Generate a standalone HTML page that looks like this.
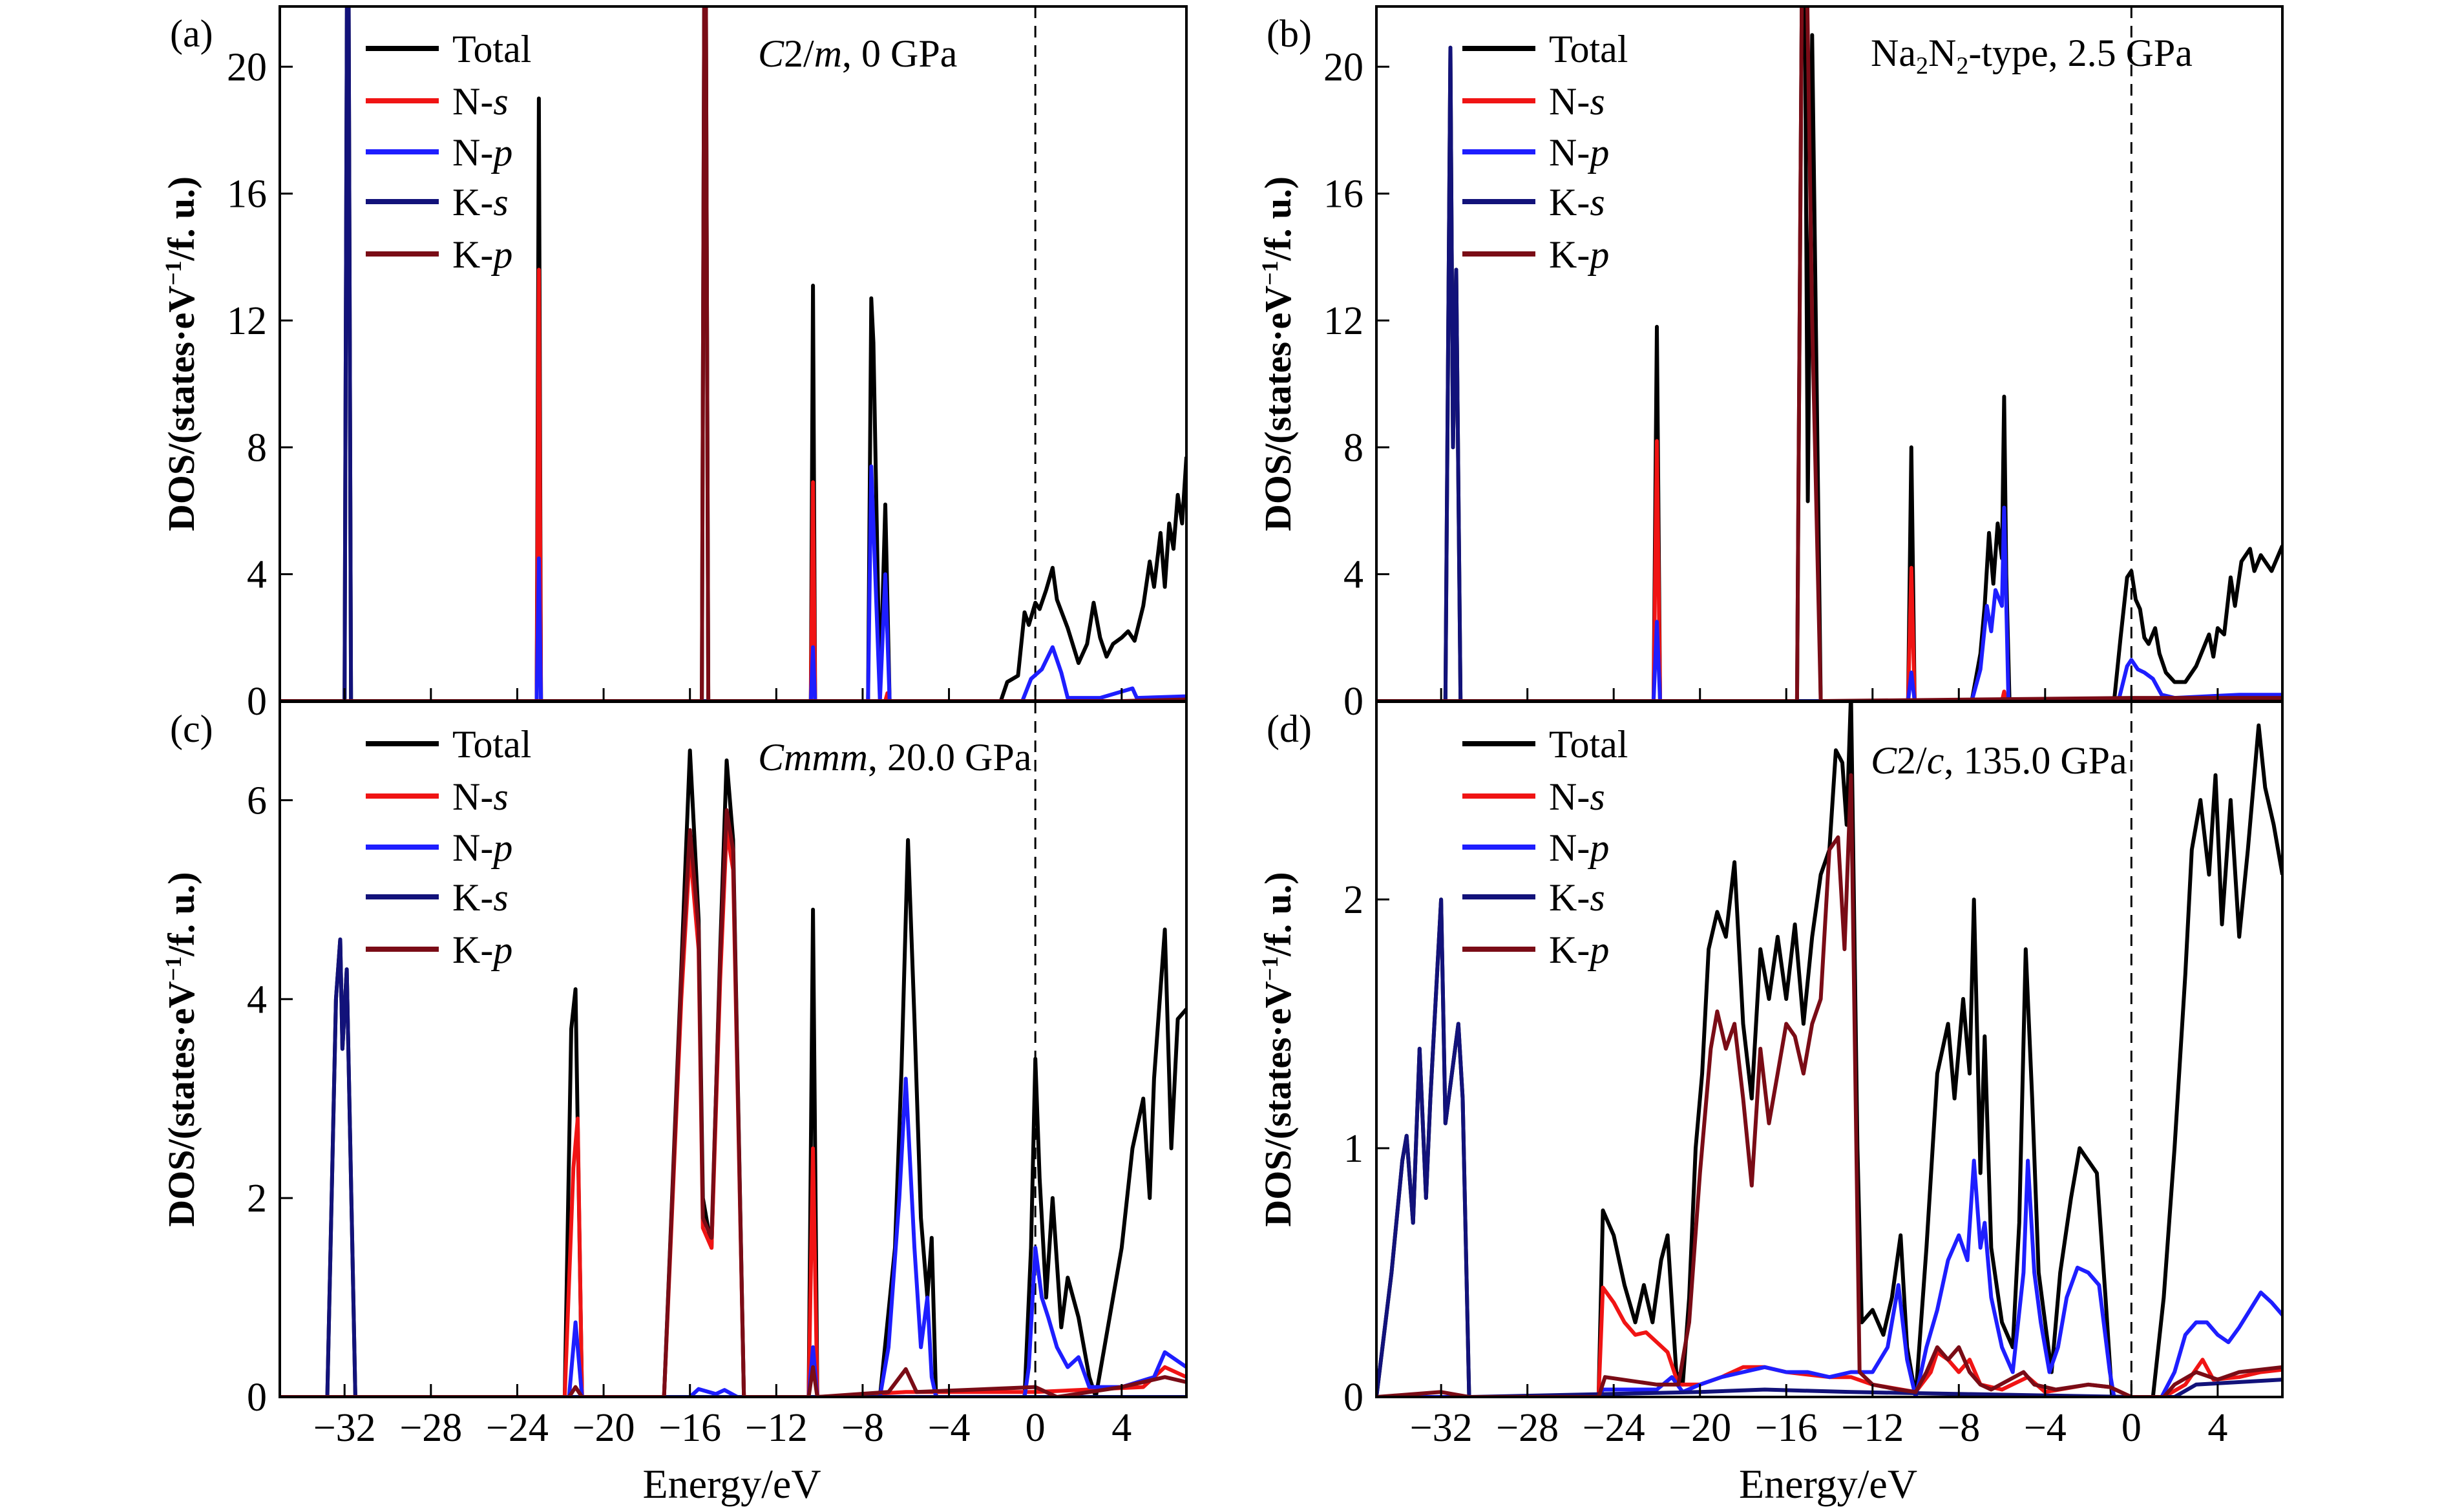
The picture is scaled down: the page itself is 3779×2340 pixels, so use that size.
<!DOCTYPE html>
<html><head><meta charset="utf-8"><style>
html,body{margin:0;padding:0;background:#fff;}
svg{display:block;font-family:"Liberation Serif",serif;}
</style></head><body>
<svg id="fig" width="3779" height="2340" viewBox="0 0 3779 2340" xmlns="http://www.w3.org/2000/svg">
<rect width="3779" height="2340" fill="#fff"/>
</svg>
<script>
// ---------------- data ----------------
const xTicks = [-32,-28,-24,-20,-16,-12,-8,-4,0,4];
const yTicksA = [0,4,8,12,16,20];
const yTicksC = [0,2,4,6];
const yTicksD = [0,1,2];
const seriesNames = ["Total","N-s","N-p","K-s","K-p"];

// panel (a) C2/m 0 GPa
const a_total = [[-35,0],[-32.0,0],[-31.85,30],[-31.7,0],[-23.1,0],[-23.0,19],[-22.9,0],[-15.45,0],[-15.3,30],[-15.15,0],[-10.4,0],[-10.3,13.1],[-10.2,0],[-7.75,0],[-7.6,12.7],[-7.5,11.3],[-7.2,0.1],[-6.95,6.2],[-6.75,0],[-1.6,0],[-1.3,0.6],[-0.8,0.8],[-0.5,2.8],[-0.3,2.4],[0,3.1],[0.2,2.9],[0.5,3.5],[0.8,4.2],[1.0,3.2],[1.5,2.3],[2.0,1.2],[2.4,1.8],[2.7,3.1],[3.0,2.0],[3.3,1.4],[3.6,1.8],[4.0,2.0],[4.3,2.2],[4.6,1.9],[5.0,3.0],[5.3,4.4],[5.5,3.6],[5.8,5.3],[6.0,3.6],[6.2,5.6],[6.4,4.8],[6.6,6.5],[6.8,5.6],[7,7.7]];
const a_ns = [[-35,0],[-23.1,0],[-23.0,13.6],[-22.9,0],[-10.4,0],[-10.3,6.9],[-10.2,0],[-6.95,0],[-6.85,0.25],[-6.75,0],[7,0]];
const a_np = [[-35,0],[-23.1,0],[-23.0,4.5],[-22.9,0],[-10.4,0],[-10.3,1.7],[-10.2,0],[-7.75,0],[-7.6,7.4],[-7.2,0],[-6.95,4.0],[-6.75,0],[-0.6,0],[-0.2,0.7],[0.3,1.0],[0.8,1.7],[1.2,0.9],[1.5,0.1],[3,0.1],[4.5,0.4],[4.7,0.1],[7,0.15]];
const a_ks = [[-35,0],[-32.0,0],[-31.85,30],[-31.7,0],[7,0]];
const a_kp = [[-35,0],[-15.45,0],[-15.3,30],[-15.15,0],[4,0],[7,0.05]];

// panel (b) Na2N2-type 2.5 GPa
const b_total = [[-35,0],[-31.8,0],[-31.57,20.6],[-31.45,8],[-31.3,13.6],[-31.1,0],[-22.15,0],[-22.0,11.8],[-21.85,0],[-15.5,0],[-15.2,30],[-15.0,6.3],[-14.8,21],[-14.4,0],[-10.35,0],[-10.2,8.0],[-10.05,0],[-7.4,0],[-7.0,1.5],[-6.8,3.0],[-6.6,5.3],[-6.4,3.7],[-6.2,5.6],[-6.0,4.5],[-5.9,9.6],[-5.8,4],[-5.65,0],[-0.8,0],[-0.5,2],[-0.2,3.9],[0,4.1],[0.2,3.2],[0.4,2.9],[0.6,2.0],[0.8,1.8],[1.1,2.3],[1.3,1.5],[1.6,0.9],[2.0,0.6],[2.5,0.6],[3.0,1.1],[3.6,2.1],[3.8,1.4],[4.0,2.3],[4.3,2.1],[4.6,3.9],[4.8,3.0],[5.1,4.4],[5.5,4.8],[5.7,4.1],[6.0,4.6],[6.5,4.1],[7,4.9]];
const b_ns = [[-35,0],[-22.15,0],[-22.0,8.2],[-21.85,0],[-10.35,0],[-10.2,4.2],[-10.05,0],[-6.0,0],[-5.9,0.3],[-5.8,0],[7,0]];
const b_np = [[-35,0],[-22.15,0],[-22.0,2.5],[-21.85,0],[-10.35,0],[-10.2,0.9],[-10.05,0],[-7.4,0],[-7.0,1.0],[-6.7,3.0],[-6.5,2.2],[-6.3,3.5],[-6.0,3.0],[-5.9,6.1],[-5.7,0],[-0.6,0],[-0.2,1.1],[0,1.3],[0.3,1.0],[0.6,0.9],[1.0,0.7],[1.4,0.2],[2,0.1],[5,0.2],[7,0.2]];
const b_ks = [[-35,0],[-31.8,0],[-31.57,20.6],[-31.45,8],[-31.3,13.6],[-31.1,0],[7,0]];
const b_kp = [[-35,0],[-15.5,0],[-15.2,30],[-14.8,12],[-14.4,0],[0,0.1],[7,0.1]];

// panel (c) Cmmm 20.0 GPa
const c_total = [[-35,0],[-32.8,0],[-32.4,4.0],[-32.2,4.6],[-32.1,3.5],[-31.9,4.3],[-31.5,0],[-21.8,0],[-21.5,3.7],[-21.3,4.1],[-21.0,0],[-17.2,0],[-16.4,4.3],[-16.0,6.5],[-15.6,4.8],[-15.4,2.0],[-15.0,1.5],[-14.6,4.5],[-14.3,6.4],[-14.0,5.6],[-13.5,0],[-10.5,0],[-10.3,4.9],[-10.1,0],[-7.2,0],[-6.5,1.5],[-6.2,3.3],[-5.9,5.6],[-5.6,3.8],[-5.3,1.8],[-5.0,1.0],[-4.8,1.6],[-4.6,0],[-0.5,0],[-0.2,1.5],[0,3.4],[0.2,2.2],[0.5,1.0],[0.8,2.0],[1.2,0.7],[1.5,1.2],[2.0,0.8],[2.5,0.2],[2.8,0],[3.2,0.5],[4.0,1.5],[4.5,2.5],[5.0,3.0],[5.3,2.0],[5.5,3.2],[6.0,4.7],[6.3,2.5],[6.6,3.8],[7,3.9]];
const c_ns = [[-35,0],[-21.8,0],[-21.4,2.3],[-21.2,2.8],[-21.0,0],[-17.2,0],[-16.4,4.0],[-16.0,5.5],[-15.6,4.5],[-15.4,1.7],[-15.0,1.5],[-14.6,4.2],[-14.3,5.7],[-14.0,5.3],[-13.5,0],[-10.5,0],[-10.3,2.5],[-10.1,0],[-6,0.05],[0,0.05],[5,0.1],[6,0.3],[7,0.2]];
const c_np = [[-35,0],[-21.6,0],[-21.3,0.75],[-21.0,0],[-16,0],[-15.6,0.08],[-14.8,0.03],[-14.4,0.07],[-13.8,0],[-10.5,0],[-10.3,0.5],[-10.1,0],[-7.2,0],[-6.8,0.5],[-6.3,2.0],[-6.0,3.2],[-5.6,1.5],[-5.3,0.5],[-5.0,1.0],[-4.8,0.2],[-4.6,0],[-0.5,0],[-0.3,0.3],[0,1.5],[0.3,1.0],[0.6,0.8],[1.0,0.5],[1.5,0.3],[2.0,0.4],[2.5,0.1],[4,0.1],[5.5,0.2],[6,0.45],[7,0.3]];
const c_ks = [[-35,0],[-32.8,0],[-32.4,4.0],[-32.2,4.6],[-32.1,3.5],[-31.9,4.3],[-31.5,0],[7,0]];
const c_kp = [[-35,0],[-21.6,0],[-21.3,0.1],[-21.0,0],[-17.2,0],[-16.4,4.2],[-16.0,5.7],[-15.6,4.7],[-15.4,1.8],[-15.0,1.6],[-14.6,4.4],[-14.3,5.9],[-14.0,5.5],[-13.5,0],[-10.5,0],[-10.3,0.3],[-10.1,0],[-6.8,0.05],[-6.0,0.28],[-5.5,0.05],[0,0.1],[1,0],[4,0.1],[6,0.2],[7,0.15]];

// panel (d) C2/c 135.0 GPa
const d_total = [[-35,0],[-34.3,0.5],[-33.8,0.95],[-33.6,1.05],[-33.3,0.7],[-33.0,1.4],[-32.7,0.8],[-32.5,1.2],[-32.0,2.0],[-31.8,1.1],[-31.5,1.3],[-31.2,1.5],[-31.0,1.2],[-30.7,0],[-24.7,0],[-24.5,0.75],[-24.0,0.65],[-23.5,0.45],[-23.0,0.3],[-22.6,0.45],[-22.2,0.3],[-21.8,0.55],[-21.5,0.65],[-21.1,0.1],[-20.8,0.05],[-20.5,0.4],[-20.2,1.0],[-19.9,1.3],[-19.6,1.8],[-19.2,1.95],[-18.8,1.85],[-18.4,2.15],[-18.0,1.5],[-17.6,1.2],[-17.2,1.8],[-16.8,1.6],[-16.4,1.85],[-16.0,1.6],[-15.6,1.9],[-15.2,1.5],[-14.8,1.85],[-14.4,2.1],[-14.0,2.2],[-13.7,2.6],[-13.4,2.55],[-13.2,2.3],[-13.0,2.83],[-12.7,1.0],[-12.5,0.3],[-12.0,0.35],[-11.5,0.25],[-11.1,0.4],[-10.7,0.65],[-10.4,0.2],[-10.0,0],[-9.5,0.6],[-9.0,1.3],[-8.5,1.5],[-8.2,1.2],[-7.8,1.6],[-7.5,1.3],[-7.3,2.0],[-7.0,0.9],[-6.8,1.45],[-6.5,0.6],[-6.0,0.3],[-5.5,0.2],[-5.2,0.7],[-4.9,1.8],[-4.6,1.2],[-4.3,0.5],[-4.0,0.3],[-3.7,0.1],[-3.3,0.5],[-2.8,0.8],[-2.4,1.0],[-2.0,0.95],[-1.6,0.9],[-1.2,0.4],[-0.9,0],[1.0,0],[1.5,0.4],[2.0,1.0],[2.5,1.7],[2.8,2.2],[3.2,2.4],[3.6,2.1],[3.9,2.5],[4.2,1.9],[4.6,2.4],[5.0,1.85],[5.4,2.2],[5.9,2.7],[6.2,2.45],[6.6,2.3],[7,2.1]];
const d_ns = [[-35,0],[-24.7,0],[-24.5,0.44],[-24,0.38],[-23.5,0.3],[-23,0.25],[-22.5,0.26],[-22,0.22],[-21.5,0.18],[-21,0.05],[-20,0.05],[-19,0.08],[-18,0.12],[-17,0.12],[-16,0.1],[-15,0.09],[-14,0.08],[-13,0.08],[-12,0.05],[-10,0.02],[-9.3,0.1],[-9,0.18],[-8.5,0.15],[-8,0.1],[-7.5,0.15],[-7,0.05],[-6,0.03],[-4.8,0.08],[-4,0.02],[-2,0.05],[-1,0.04],[0,0],[1.5,0],[2.5,0.05],[3.3,0.15],[3.8,0.07],[5,0.08],[6,0.1],[7,0.11]];
const d_np = [[-35,0],[-24.7,0],[-24.5,0.03],[-22,0.03],[-21.3,0.08],[-20.8,0.02],[-20,0.05],[-19,0.08],[-18,0.1],[-17,0.12],[-16,0.1],[-15,0.1],[-14,0.08],[-13,0.1],[-12,0.1],[-11.3,0.2],[-10.8,0.45],[-10.4,0.15],[-10,0],[-9.5,0.2],[-9,0.35],[-8.5,0.55],[-8,0.65],[-7.6,0.55],[-7.3,0.95],[-7.0,0.6],[-6.8,0.7],[-6.5,0.4],[-6.0,0.2],[-5.5,0.1],[-5.0,0.5],[-4.8,0.95],[-4.5,0.5],[-4.2,0.3],[-3.8,0.1],[-3.4,0.2],[-3,0.4],[-2.5,0.52],[-2,0.5],[-1.5,0.45],[-1,0.1],[-0.8,0],[1.4,0],[2,0.1],[2.5,0.25],[3,0.3],[3.5,0.3],[4,0.25],[4.5,0.22],[5,0.28],[5.5,0.35],[6,0.42],[6.5,0.38],[7,0.33]];
const d_ks = [[-35,0],[-34.3,0.5],[-33.8,0.95],[-33.6,1.05],[-33.3,0.7],[-33.0,1.4],[-32.7,0.8],[-32.5,1.2],[-32.0,2.0],[-31.8,1.1],[-31.5,1.3],[-31.2,1.5],[-31.0,1.2],[-30.7,0],[-20,0.02],[-17,0.03],[-13,0.02],[0,0],[2,0],[3,0.05],[7,0.07]];
const d_kp = [[-35,0],[-32,0.02],[-30.7,0],[-24.7,0],[-24.4,0.08],[-22,0.05],[-21,0.05],[-20.5,0.3],[-20.0,0.9],[-19.5,1.4],[-19.2,1.55],[-18.8,1.4],[-18.4,1.5],[-18,1.2],[-17.6,0.85],[-17.2,1.4],[-16.8,1.1],[-16.4,1.3],[-16,1.5],[-15.6,1.45],[-15.2,1.3],[-14.8,1.5],[-14.4,1.6],[-14.0,2.2],[-13.6,2.25],[-13.3,1.8],[-13.0,2.5],[-12.6,0.1],[-12,0.05],[-10.8,0.03],[-10,0.02],[-9.5,0.1],[-9,0.2],[-8.5,0.15],[-8,0.2],[-7.5,0.1],[-7,0.05],[-6.5,0.03],[-5,0.1],[-4.5,0.05],[-3.5,0.03],[-2,0.05],[-1,0.04],[0,0],[1.5,0],[2,0.05],[3,0.1],[4,0.07],[5,0.1],[7,0.12]];

// ---------------- drawing ----------------
const NS = "http://www.w3.org/2000/svg";
const svg = document.getElementById("fig");
const colors = ["#000000","#f01414","#1e1eff","#12127a","#7a0c16"];
function el(tag, attrs, parent){
  const e = document.createElementNS(NS, tag);
  for (const k in attrs) e.setAttribute(k, attrs[k]);
  (parent||svg).appendChild(e);
  return e;
}
const panels = [
  {id:"a", x0:433, x1:1836, yTop:10, yBot:1085, ymax:21.9, ticks:yTicksA, series:[a_total,a_ns,a_np,a_ks,a_kp], title:'<tspan font-style="italic">C</tspan>2/<tspan font-style="italic">m</tspan>, 0 GPa', tx:1173, ty:103, xlabels:false},
  {id:"b", x0:2130, x1:3532, yTop:10, yBot:1085, ymax:21.9, ticks:yTicksA, series:[b_total,b_ns,b_np,b_ks,b_kp], title:'Na<tspan font-size="38" dy="12">2</tspan><tspan dy="-12">N</tspan><tspan font-size="38" dy="12">2</tspan><tspan dy="-12">-type, 2.5 GPa</tspan>', tx:2895, ty:102, xlabels:false},
  {id:"c", x0:433, x1:1836, yTop:1086, yBot:2162, ymax:6.99, ticks:yTicksC, series:[c_total,c_ns,c_np,c_ks,c_kp], title:'<tspan font-style="italic">Cmmm</tspan>, 20.0 GPa', tx:1173, ty:1192, xlabels:true},
  {id:"d", x0:2130, x1:3532, yTop:1086, yBot:2162, ymax:2.795, ticks:yTicksD, series:[d_total,d_ns,d_np,d_ks,d_kp], title:'<tspan font-style="italic">C</tspan>2/<tspan font-style="italic">c</tspan>, 135.0 GPa', tx:2895, ty:1197, xlabels:true}
];
const xmin=-35, xmax=7;
panels.forEach(p=>{
  const g = el("g",{});
  
  
  const sx = e => p.x0 + (e-xmin)/(xmax-xmin)*(p.x1-p.x0);
  const sy = v => p.yBot - v/p.ymax*(p.yBot-p.yTop);
  const cp = el("clipPath",{id:"clip-"+p.id}, g);
  el("rect",{x:p.x0,y:p.yTop,width:p.x1-p.x0,height:p.yBot-p.yTop}, cp);
  const z = el("line",{x1:sx(0),x2:sx(0),y1:p.yTop,y2:p.yBot,stroke:"#000","stroke-width":3,"stroke-dasharray":"18,12"}, g);
  
  
  const sg = el("g",{"clip-path":"url(#clip-"+p.id+")"}, g);
  p.series.forEach((s,i)=>{
    const d = s.map((pt,j)=>(j?"L":"M")+sx(pt[0]).toFixed(1)+","+sy(pt[1]).toFixed(1)).join("");
    const path = el("path",{d:d,fill:"none",stroke:colors[i],"stroke-width":6,"stroke-linejoin":"round"}, sg);
    
    
  });
  const fr = el("rect",{x:p.x0,y:p.yTop,width:p.x1-p.x0,height:p.yBot-p.yTop,fill:"none",stroke:"#000","stroke-width":4}, g);
  
  
  xTicks.forEach(t=>{
    el("line",{x1:sx(t),x2:sx(t),y1:p.yBot,y2:p.yBot-20,stroke:"#000","stroke-width":3}, g);
    if(p.xlabels){
      const tl = el("text",{x:sx(t),y:2230,"font-size":62,"text-anchor":"middle"}, g);
      tl.textContent = (t<0?"\u2212"+(-t):String(t));
      
      
    }
  });
  p.ticks.forEach(t=>{
    el("line",{x1:p.x0,x2:p.x0+20,y1:sy(t),y2:sy(t),stroke:"#000","stroke-width":3}, g);
    const tl = el("text",{x:p.x0-20,y:sy(t)+21,"font-size":62,"text-anchor":"end"}, g);
    tl.textContent = String(t);
    
    
  });
  const cy = (p.yTop+p.yBot)/2;
  const lx = p.x0-133;
  const yl = el("text",{x:lx,y:cy,"font-size":58,"font-weight":"bold","text-anchor":"middle",transform:"rotate(-90 "+lx+" "+cy+")"}, g);
  yl.innerHTML = 'DOS/(states·eV<tspan font-size="36" dy="-20">\u22121</tspan><tspan dy="20">/f. u.)</tspan>';
  
  
  const pl = el("text",{x:p.x0-170,y:p.yTop+62,"font-size":60}, g);
  pl.textContent = "("+p.id+")";
  
  
  const tt = el("text",{x:p.tx,y:p.ty,"font-size":60}, g);
  tt.innerHTML = p.title;
  
  
  const rows = [65,146,225,302,383];
  const lox = p.x0+133;
  seriesNames.forEach((n,i)=>{
    const ly = p.yTop+rows[i];
    const lg = el("g",{}, g);
    
    
    el("line",{x1:lox,x2:lox+113,y1:ly,y2:ly,stroke:colors[i],"stroke-width":8}, lg);
    const lt = el("text",{x:lox+134,y:ly+21,"font-size":60}, lg);
    if(i===0) lt.textContent = n;
    else { const parts=n.split("-"); lt.innerHTML = parts[0]+'-<tspan font-style="italic">'+parts[1]+'</tspan>'; }
  });
  if(p.xlabels){
    const xt = el("text",{x:(p.x0+p.x1)/2-2,y:2318,"font-size":64,"text-anchor":"middle"}, g);
    xt.textContent = "Energy/eV";
    
    
  }
});
</script>
</body></html>
